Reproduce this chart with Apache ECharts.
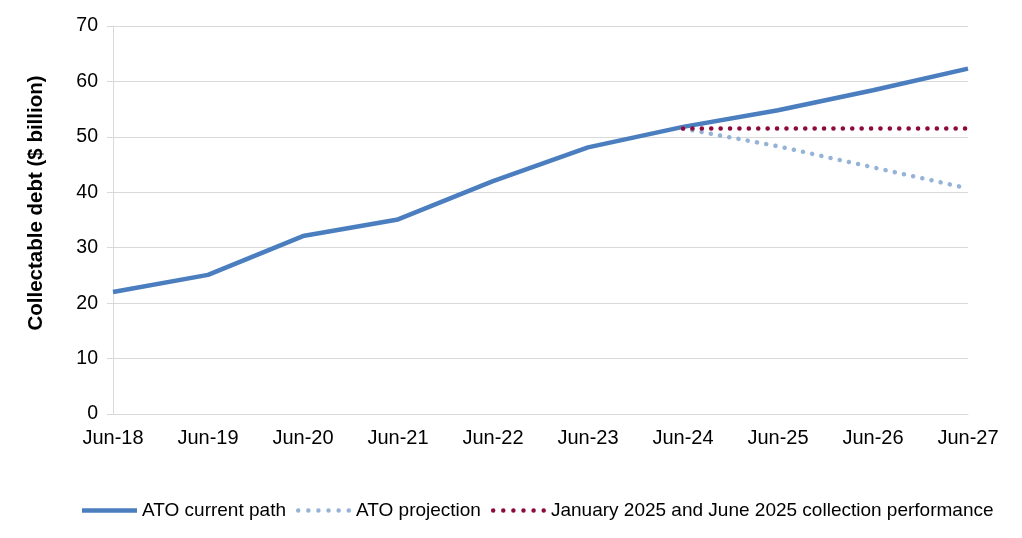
<!DOCTYPE html>
<html>
<head>
<meta charset="utf-8">
<script src="https://cdn.jsdelivr.net/npm/echarts@6/dist/echarts.min.js"></script>
<style>
  html, body { margin: 0; padding: 0; background: #fff; }
  #chart { width: 1022px; height: 538px; }
</style>
</head>
<body>
<div id="chart"></div>
<script>
const categories = ['Jun-18', 'Jun-19', 'Jun-20', 'Jun-21', 'Jun-22', 'Jun-23', 'Jun-24', 'Jun-25', 'Jun-26', 'Jun-27'];
const currentPath = [22, 25.1, 32.1, 35.1, 42, 48.1, 51.8, 54.8, 58.4, 62.3];
const atoProjection = [null, null, null, null, null, null, 51.5, 48.3, 44.5, 40.7];
const collectionPerf = [null, null, null, null, null, null, 51.5, 51.5, 51.5, 51.5];
const yTicks = [0, 10, 20, 30, 40, 50, 60, 70];

const font = 'Liberation Sans, Arial, sans-serif';
const chart = echarts.init(document.getElementById('chart'), null, { renderer: 'canvas' });

// legend icons: a thick bar, and a row of six dots
const solidIcon = 'path://M0,0H55V4.5H0Z';
let dotsIcon = 'path://';
for (let k = 0; k < 6; k++) {
  const cx = 2.25 + k * 10.1;
  dotsIcon += `M${cx - 2.25},2.25a2.25,2.25 0 1,0 4.5,0a2.25,2.25 0 1,0 -4.5,0Z`;
}

const dotted = (color) => ({
  color: color,
  width: 4.5,
  type: [0.1, 9.3],
  cap: 'round',
});

chart.setOption({
  animation: false,
  grid: { left: 113, right: 54, top: 26, bottom: 124, containLabel: false },
  legend: {
    left: 77,
    top: 496,
    itemWidth: 55,
    itemHeight: 20,
    itemGap: 10,
    symbolKeepAspect: true,
    textStyle: { fontFamily: font, fontSize: 19, color: '#000' },
    data: [
      { name: 'ATO current path', icon: solidIcon },
      { name: 'ATO projection', icon: dotsIcon },
      { name: 'January 2025 and June 2025 collection performance', icon: dotsIcon },
    ],
  },
  xAxis: {
    type: 'category',
    data: categories,
    boundaryGap: false,
    axisLine: { show: true, lineStyle: { color: '#d9d9d9', width: 1 } },
    axisTick: { show: false },
    axisLabel: { color: '#000', fontFamily: font, fontSize: 20, margin: 14 },
  },
  yAxis: {
    type: 'value',
    min: 0,
    max: 70,
    interval: 10,
    name: 'Collectable debt ($ billion)',
    nameLocation: 'middle',
    nameGap: 66,
    nameTextStyle: {
      fontFamily: font, fontSize: 20.5, fontWeight: 'bold', color: '#000',
      padding: [0, 0, 0, 34],
    },
    axisLine: { show: true, lineStyle: { color: '#d9d9d9' } },
    axisTick: { show: true, length: 6, lineStyle: { color: '#d9d9d9' } },
    axisLabel: {
      color: '#000', fontFamily: font, fontSize: 19.5, margin: 15,
      formatter: (v) => (yTicks.includes(v) ? String(v) : ''),
    },
    splitLine: { show: true, lineStyle: { color: '#d9d9d9', width: 1 } },
  },
  series: [
    {
      name: 'ATO current path',
      type: 'line',
      data: currentPath,
      symbol: 'none',
      color: '#4a7ebf',
      lineStyle: { color: '#4a7ebf', width: 4.5 },
      z: 2,
    },
    {
      name: 'ATO projection',
      type: 'line',
      data: atoProjection,
      symbol: 'none',
      color: '#95b3d7',
      lineStyle: dotted('#95b3d7'),
      z: 3,
    },
    {
      name: 'January 2025 and June 2025 collection performance',
      type: 'line',
      data: collectionPerf,
      symbol: 'none',
      color: '#8c0a3c',
      lineStyle: dotted('#8c0a3c'),
      z: 4,
    },
  ],
});
</script>
</body>
</html>
